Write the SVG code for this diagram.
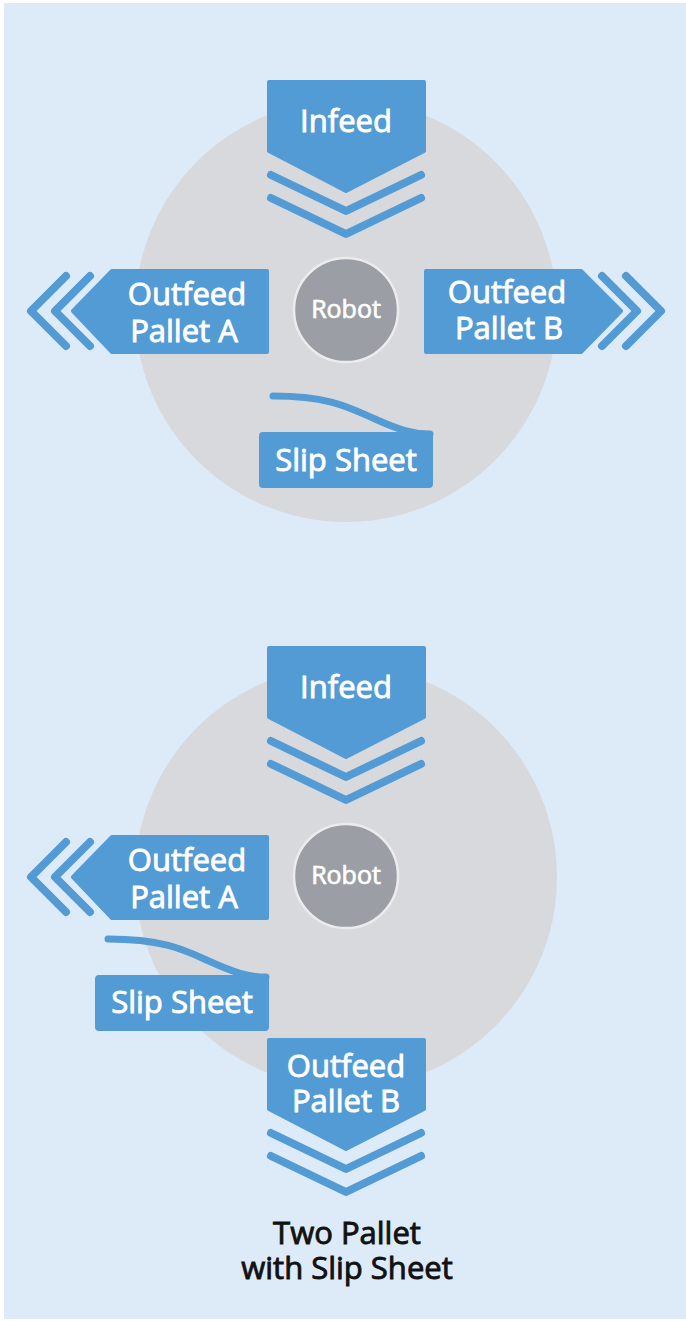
<svg xmlns="http://www.w3.org/2000/svg" width="686" height="1322" viewBox="0 0 686 1322">
<defs>
<style>
.bg{fill:#DDEAF7}
.zone{fill:#D8D9DC}
.box{fill:#539BD5;stroke:#539BD5;stroke-width:4;stroke-linejoin:round}
.chev{fill:none;stroke:#539BD5;stroke-width:8;stroke-linecap:round;stroke-linejoin:round}
.sheet{fill:none;stroke:#539BD5;stroke-width:7;stroke-linecap:round}
.robot{fill:#9B9FA5;stroke:#ECECEE;stroke-width:2.5}
.lbl{font-family:"Open Sans","Noto Sans","DejaVu Sans",sans-serif;font-size:31px;fill:#FFFFFF;stroke:#FFFFFF;stroke-width:0.9;text-anchor:middle}
.rlbl{font-family:"Open Sans","Noto Sans","DejaVu Sans",sans-serif;font-size:25px;fill:#FFFFFF;stroke:#FFFFFF;stroke-width:0.7;text-anchor:middle}
.title{font-family:"Open Sans","Noto Sans","DejaVu Sans",sans-serif;font-size:31px;fill:#111111;stroke:#111111;stroke-width:0.9;text-anchor:middle}
</style>
</defs>
<rect class="bg" x="4" y="3" width="682" height="1316"/>

<g id="cell1">
<circle id="zone1" class="zone" cx="346" cy="311" r="211"/>
<g id="infeed1">
<path class="box" d="M269,82 H424 V151 L346,191 L269,151 Z"/>
<polyline class="chev" points="271,175 346,211 421,175"/>
<polyline class="chev" points="271,198 346,234 421,198"/>
<text class="lbl" x="346" y="132">Infeed</text>
</g>
<g id="outA1">
<path class="box" d="M267,271 V352 H112 L73,311 L112,271 Z"/>
<polyline class="chev" points="66,276 31,311 66,346"/>
<polyline class="chev" points="90,276 55,311 90,346"/>
<text class="lbl" x="187" y="305">Outfeed</text>
<text class="lbl" x="184" y="342">Pallet A</text>
</g>
<g id="outB1">
<path class="box" d="M426,271 V352 H581 L621,311 L581,271 Z"/>
<polyline class="chev" points="602,276 637,311 602,346"/>
<polyline class="chev" points="626,276 661,311 626,346"/>
<text class="lbl" x="507" y="303">Outfeed</text>
<text class="lbl" x="509" y="339">Pallet B</text>
</g>
<g id="robot1">
<circle class="robot" cx="346" cy="310" r="52"/>
<text class="rlbl" x="346" y="318">Robot</text>
</g>
<g id="slip1">
<path class="sheet" d="M273,396 C330,396 350,408 375,419 C397,429 412,434 430,434"/>
<rect class="box" x="261" y="434" width="170" height="52" rx="2"/>
<text class="lbl" x="346" y="471">Slip Sheet</text>
</g>
</g>

<g id="cell2">
<circle id="zone2" class="zone" cx="346" cy="877" r="211"/>
<g id="infeed2">
<path class="box" d="M269,648 H424 V717 L346,757 L269,717 Z"/>
<polyline class="chev" points="271,741 346,777 421,741"/>
<polyline class="chev" points="271,764 346,800 421,764"/>
<text class="lbl" x="346" y="698">Infeed</text>
</g>
<g id="outA2">
<path class="box" d="M267,837 V918 H112 L73,877 L112,837 Z"/>
<polyline class="chev" points="66,842 31,877 66,912"/>
<polyline class="chev" points="90,842 55,877 90,912"/>
<text class="lbl" x="187" y="871">Outfeed</text>
<text class="lbl" x="184" y="908">Pallet A</text>
</g>
<g id="robot2">
<circle class="robot" cx="346" cy="876" r="52"/>
<text class="rlbl" x="346" y="884">Robot</text>
</g>
<g id="slip2">
<path class="sheet" d="M108,939 C165,939 186,951 211,962 C233,972 248,977 266,977"/>
<rect class="box" x="97" y="977" width="170" height="52" rx="2"/>
<text class="lbl" x="182" y="1013">Slip Sheet</text>
</g>
<g id="outB2">
<path class="box" d="M269,1040 H424 V1109 L346,1149 L269,1109 Z"/>
<polyline class="chev" points="271,1133 346,1169 421,1133"/>
<polyline class="chev" points="271,1156 346,1192 421,1156"/>
<text class="lbl" x="346" y="1077">Outfeed</text>
<text class="lbl" x="346" y="1112">Pallet B</text>
</g>
</g>

<g id="caption">
<text class="title" x="347" y="1244">Two Pallet</text>
<text class="title" x="347" y="1279">with Slip Sheet</text>
</g>
<g id="connectors"/>
</svg>
